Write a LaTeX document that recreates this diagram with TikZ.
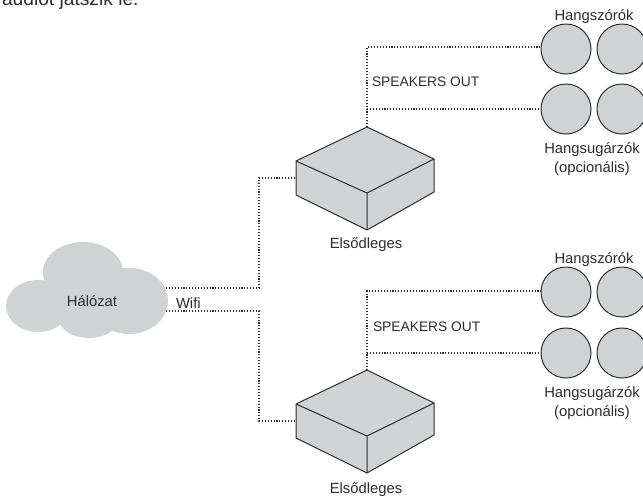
\documentclass[tikz,border=0pt]{standalone}
\usepackage{fontspec}
\setmainfont{Liberation Sans}
\definecolor{fillgray}{HTML}{D1D2D4}
\definecolor{ink}{HTML}{2E2C2D}
\tikzset{
  x=1pt,y=-1pt,
  lbl/.style={inner sep=0pt,outer sep=0pt,anchor=base,text=ink,font=\fontsize{14.8}{17}\selectfont},
  lblw/.style={lbl,anchor=base west},
  caplbl/.style={lblw,font=\fontsize{13.8}{16}\selectfont},
  wire/.style={draw=ink,line width=1.1pt,dash pattern=on 1.1pt off 1.8pt},
  solidline/.style={draw=ink,line width=1pt,line join=round},
  boxface/.style={solidline,fill=fillgray},
  spk/.style={circle,minimum size=50pt,inner sep=0pt,outer sep=0pt,solidline,fill=fillgray},
  cloudpart/.style={fill=fillgray,draw=none},
}
\begin{document}
\begin{tikzpicture}
\useasboundingbox (0,0) rectangle (643,499);
\clip (0,0) rectangle (643,499);
% intro fragment
\node[lblw,font=\fontsize{19.2}{22}\selectfont] (intro) at (2,5) {audiót játszik le.};
% cloud
\fill[cloudpart] (38,306) ellipse[x radius=32,y radius=26];
\fill[cloudpart] (83,272) ellipse[x radius=40,y radius=30];
\fill[cloudpart] (129,301) ellipse[x radius=39,y radius=33];
\fill[cloudpart] (89,317) ellipse[x radius=31,y radius=21];
\fill[cloudpart] (45,290) rectangle (135,320);
\node[lbl] (net) at (92,306) {Hálózat};
\coordinate (netA) at (166,288);
\coordinate (netB) at (166,311);
\node[lblw] (wifi) at (176,308) {Wifi};
% upper box
\coordinate (aT) at (367,127);\coordinate (aR) at (434,159);\coordinate (aF) at (367,193);\coordinate (aL) at (296,161);
\coordinate (aRb) at (434,192);\coordinate (aFb) at (367,230);\coordinate (aLb) at (296,195);
\coordinate (aIn) at (296,178);
\path[boxface] (aT)--(aR)--(aRb)--(aFb)--(aLb)--(aL)--cycle;
\draw[solidline] (aL)--(aF)--(aR) (aF)--(aFb);
\node[lbl] (pa) at (366,248) {Elsődleges};
% lower box
\coordinate (bT) at (367,370);\coordinate (bR) at (434,403);\coordinate (bF) at (367,436);\coordinate (bL) at (296,404);
\coordinate (bRb) at (434,435);\coordinate (bFb) at (367,473);\coordinate (bLb) at (296,438);
\coordinate (bIn) at (296,421);
\path[boxface] (bT)--(bR)--(bRb)--(bFb)--(bLb)--(bL)--cycle;
\draw[solidline] (bL)--(bF)--(bR) (bF)--(bFb);
\node[lbl] (pb) at (366,493) {Elsődleges};
% speakers upper
\node[spk] (s1) at (566,49) {};
\node[spk] (s2) at (622,49) {};
\node[spk] (s3) at (566,109) {};
\node[spk] (s4) at (622,109) {};
% speakers lower
\node[spk] (s5) at (566,292) {};
\node[spk] (s6) at (622,292) {};
\node[spk] (s7) at (566,353) {};
\node[spk] (s8) at (622,353) {};
% labels
\node[lbl] (h1) at (594,20) {Hangszórók};
\node[lbl] (o1) at (592,153) {Hangsugárzók};
\node[lbl] (p1) at (592,172) {(opcionális)};
\node[caplbl] (so1) at (372,86) {SPEAKERS OUT};
\node[lbl] (h2) at (594,263) {Hangszórók};
\node[lbl] (o2) at (592,397) {Hangsugárzók};
\node[lbl] (p2) at (592,416) {(opcionális)};
\node[caplbl] (so2) at (373,331) {SPEAKERS OUT};
% wires
\coordinate (c1) at (367,47);
\coordinate (c2) at (367,109);
\coordinate (c3) at (367,291);
\coordinate (c4) at (367,353);
\coordinate (s1in) at (541,47);
\coordinate (s5in) at (541,291);
\draw[wire] (netA) -| (259,178) -- (aIn);
\draw[wire] (netB) -| (259,421) -- (bIn);
\draw[wire] (aT) -- (c1) -- (s1in);
\draw[wire] (c2) -- (s3.west);
\draw[wire] (bT) -- (c3) -- (s5in);
\draw[wire] (c4) -- (s7.west);
\end{tikzpicture}
\end{document}
